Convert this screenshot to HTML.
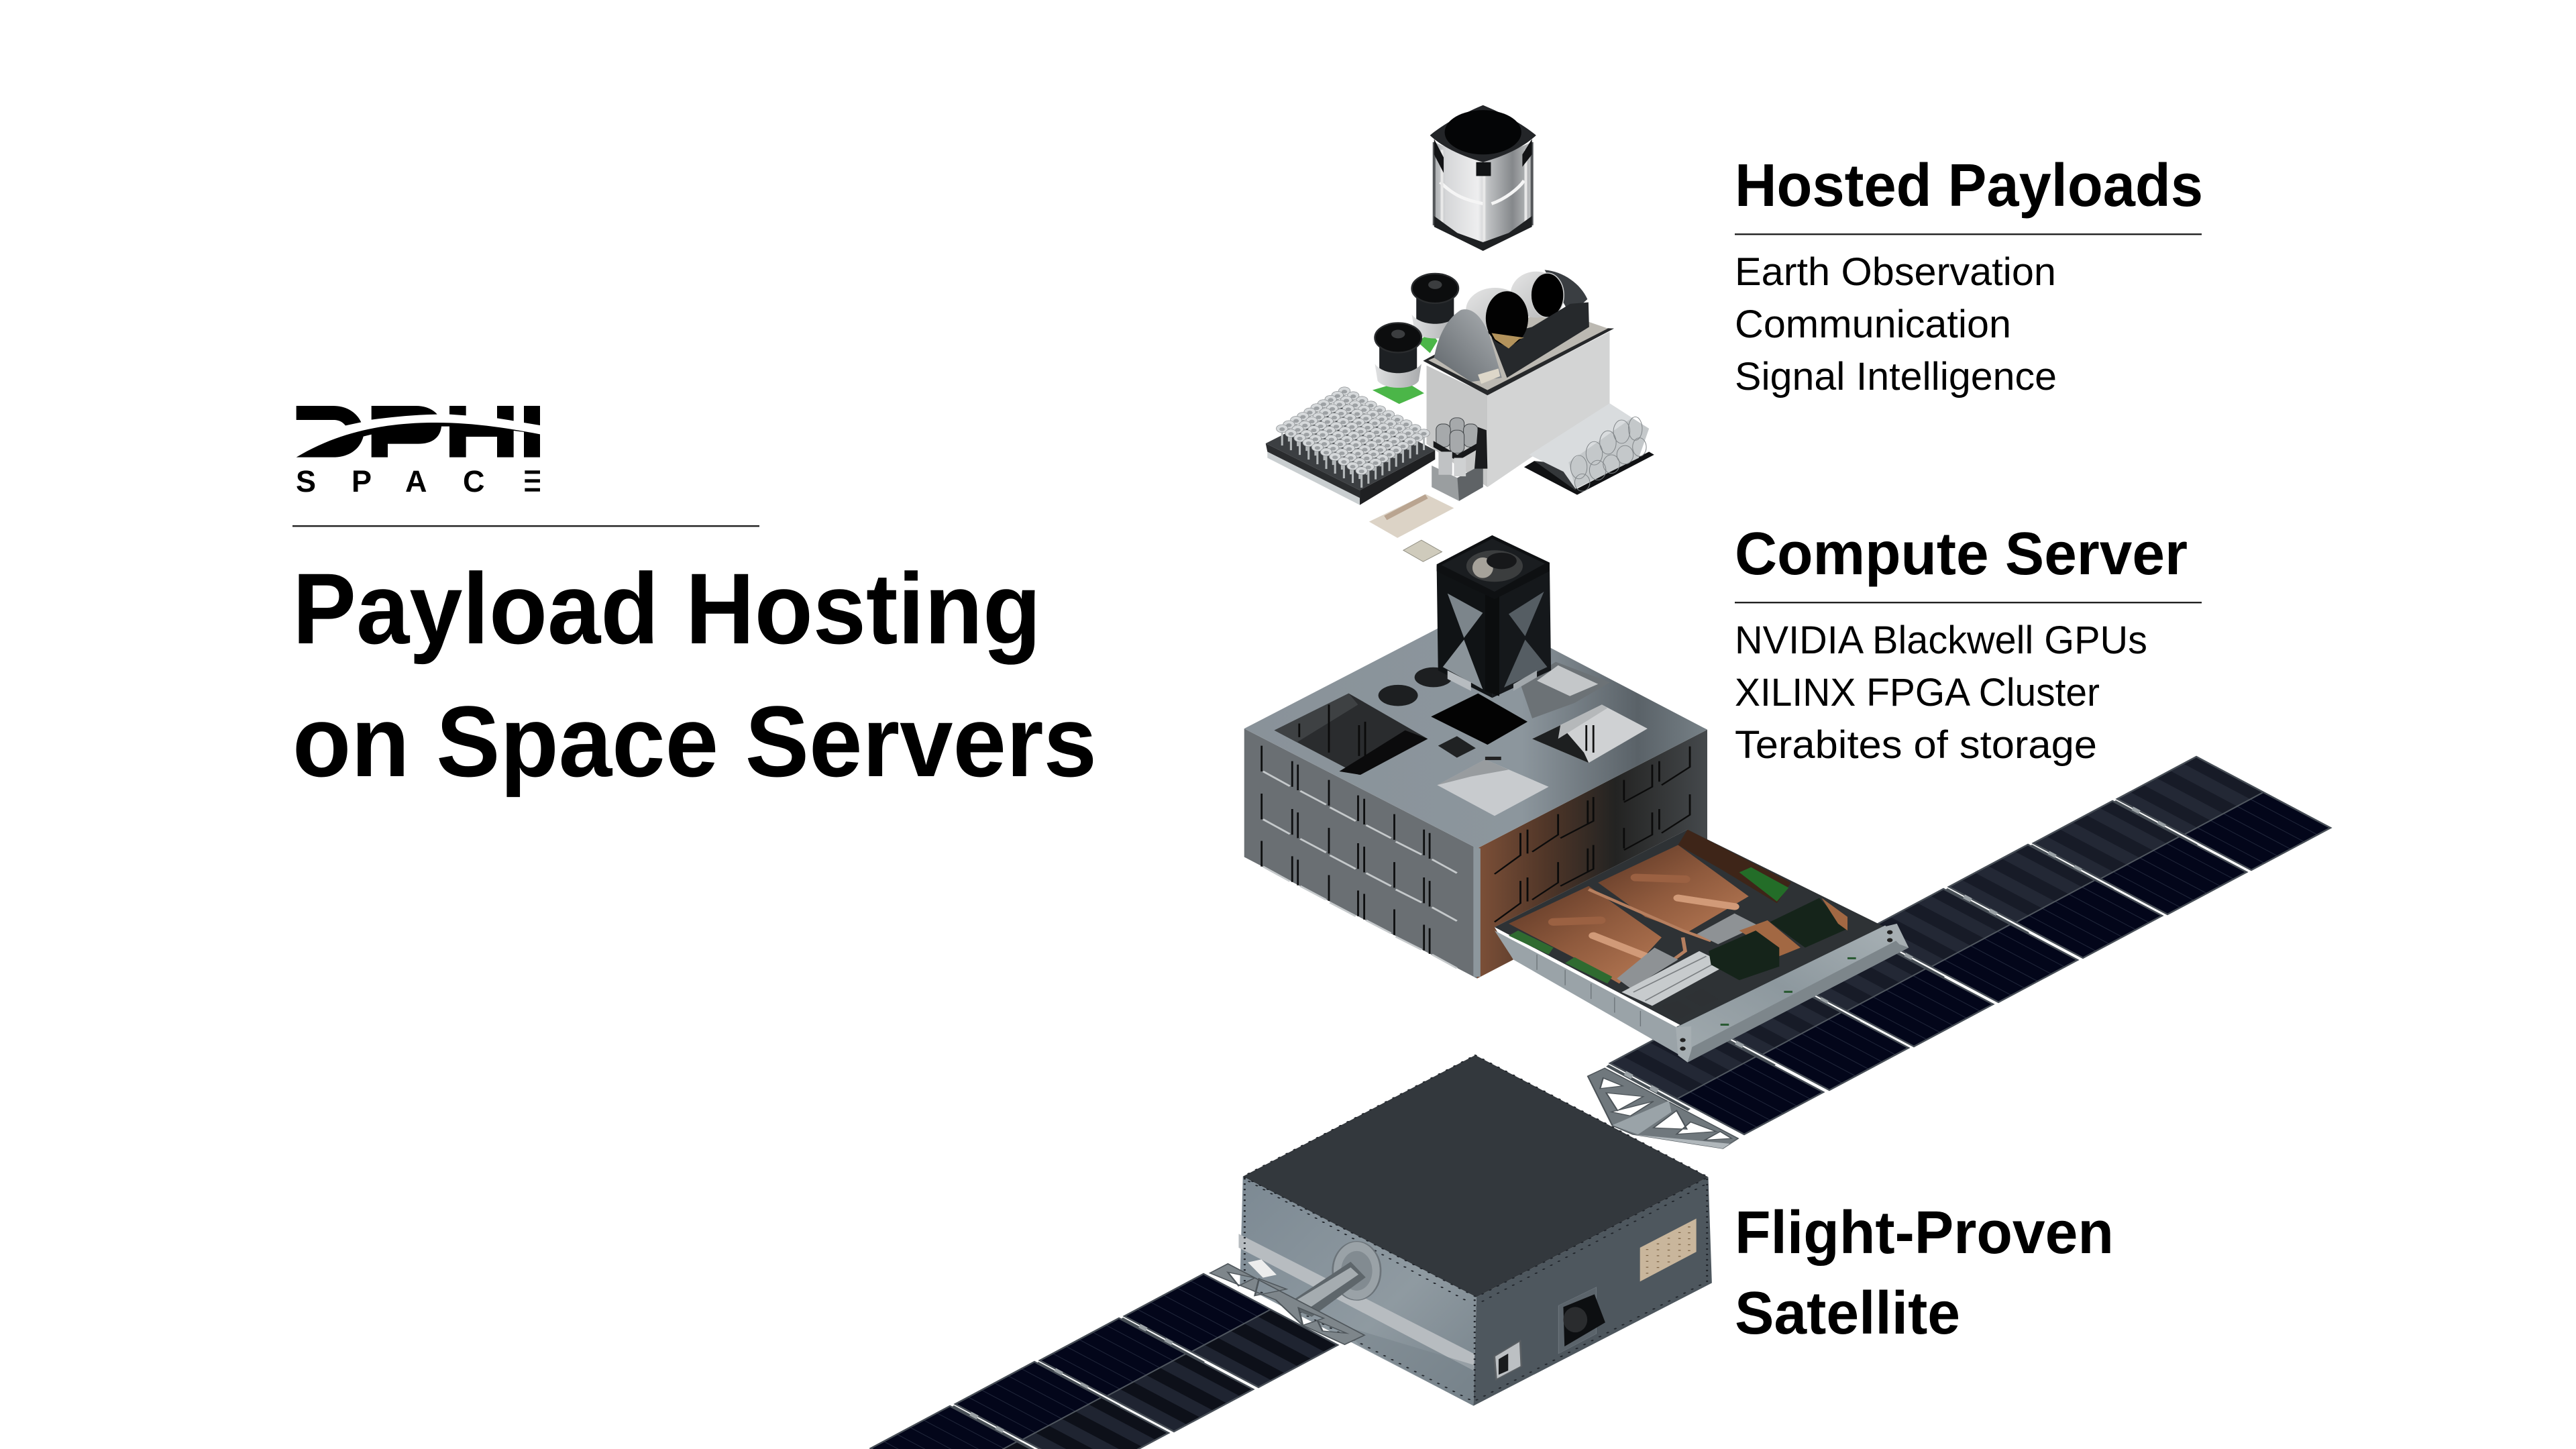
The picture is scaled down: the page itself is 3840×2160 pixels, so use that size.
<!DOCTYPE html>
<html lang="en"><head><meta charset="utf-8"><title>Payload Hosting on Space Servers</title>
<style>html,body{margin:0;padding:0;background:#fff;width:3840px;height:2160px;overflow:hidden}svg{display:block}
.b{font-family:"Liberation Sans",sans-serif;font-weight:700;fill:#000}
.r{font-family:"Liberation Sans",sans-serif;font-weight:400;fill:#000}</style></head><body>
<svg xmlns="http://www.w3.org/2000/svg" width="3840" height="2160" viewBox="0 0 3840 2160">
<defs>
<linearGradient id="silver" x1="0" x2="1" y1="0" y2="0"><stop offset="0" stop-color="#a9acae"/><stop offset=".12" stop-color="#d5d6d8"/><stop offset=".45" stop-color="#eeeeef"/><stop offset=".55" stop-color="#bfc1c3"/><stop offset=".8" stop-color="#85888b"/><stop offset="1" stop-color="#c2c4c5"/></linearGradient>
<linearGradient id="satL" x1="0" x2="1" y1="0" y2="1"><stop offset="0" stop-color="#7c8993"/><stop offset=".6" stop-color="#8f9aa1"/><stop offset="1" stop-color="#77838b"/></linearGradient>
<linearGradient id="srvR" x1="0" x2="1" y1="0" y2="0"><stop offset="0" stop-color="#7d5038"/><stop offset=".3" stop-color="#503628"/><stop offset=".6" stop-color="#232322"/><stop offset="1" stop-color="#45494c"/></linearGradient>
<linearGradient id="srvT" x1="0" x2="1" y1="0" y2="0"><stop offset="0" stop-color="#899299"/><stop offset=".6" stop-color="#8c969d"/><stop offset=".85" stop-color="#5a6268"/><stop offset="1" stop-color="#778187"/></linearGradient>
<linearGradient id="tray" x1="0" x2="1" y1="1" y2="0"><stop offset="0" stop-color="#a2abaf"/><stop offset=".5" stop-color="#8d989e"/><stop offset="1" stop-color="#a9b2b6"/></linearGradient>
<linearGradient id="housing" x1="0" x2="1" y1="1" y2="0"><stop offset="0" stop-color="#5e6469"/><stop offset="1" stop-color="#aeb2b5"/></linearGradient>
<linearGradient id="dome" x1="0" x2="1" y1="0" y2="1"><stop offset="0" stop-color="#e6e6e6"/><stop offset="1" stop-color="#b3b5b6"/></linearGradient>
<linearGradient id="copper" x1="0" x2="1" y1="0" y2="1"><stop offset="0" stop-color="#5a3524"/><stop offset=".5" stop-color="#8f5a3d"/><stop offset="1" stop-color="#b87a55"/></linearGradient>
<linearGradient id="collar" x1="0" x2="1" y1="0" y2="0"><stop offset="0" stop-color="#dfe0e1"/><stop offset="1" stop-color="#a9abad"/></linearGradient>

<g id="hinge"><polygon points="-2,2 -6,5 116,71 120,68" fill="#4a5258"/><polygon points="-6,5 -10,8 112,74 116,71" fill="#fff"/><rect x="22" y="14" width="12" height="7" fill="#9ba2a6" transform="rotate(28 28 17)"/><rect x="60" y="35" width="12" height="7" fill="#9ba2a6" transform="rotate(28 66 38)"/></g>

<g id="dkhalf"><polygon points="0,0 100,53 -18,116 -118,63" fill="#03061a"/>
<path d="M-20,10 L80,63 M-39,21 L61,74 M-59,32 L41,85 M-79,42 L21,95 M-98,53 L2,106" stroke="#20263a" stroke-width="1"/></g>
<g id="sthalf"><polygon points="0,0 100,53 -18,116 -118,63" fill="#0d1019"/>
<polygon points="-20,10 80,63 61,74 -39,21" fill="#1f2431"/><polygon points="-59,32 41,85 21,95 -79,42" fill="#1f2431"/><polygon points="-98,53 2,106 -18,116 -118,63" fill="#1f2431"/></g>
<g id="sthalfA"><polygon points="0,0 100,53 -18,116 -118,63" fill="#171b27"/>
<polygon points="-20,10 80,63 61,74 -39,21" fill="#232835"/><polygon points="-59,32 41,85 21,95 -79,42" fill="#232835"/><polygon points="-98,53 2,106 -18,116 -118,63" fill="#232835"/></g>

<g id="pA"><use href="#sthalfA"/><use href="#dkhalf" x="100" y="53"/><path d="M100,53 L-18,116" stroke="#50575f" stroke-width="2"/><polygon points="0,0 200,106 82,169 -118,63" fill="none" stroke="#474e56" stroke-width="2.5"/></g>
<g id="pB"><use href="#dkhalf"/><use href="#sthalf" x="100" y="53"/><path d="M100,53 L-18,116" stroke="#50575f" stroke-width="2"/><polygon points="0,0 200,106 82,169 -118,63" fill="none" stroke="#474e56" stroke-width="2.5"/></g>

<g id="horn"><path d="M0,0 V55" stroke="#b4b8ba" stroke-width="6"/><ellipse cx="0" cy="0" rx="17" ry="13" fill="#d6d9db" stroke="#8b8f92" stroke-width="1.5"/><ellipse cx="0" cy="2" rx="8" ry="6" fill="#9da1a4"/></g>
<g id="hrow"><use href="#horn"/><use href="#horn" x="25.8" y="15.2"/><use href="#horn" x="51.6" y="30.4"/><use href="#horn" x="77.4" y="45.6"/><use href="#horn" x="103.2" y="60.8"/><use href="#horn" x="129" y="76"/><use href="#horn" x="154.8" y="91.2"/><use href="#horn" x="180.6" y="106.4"/><use href="#horn" x="206.4" y="121.6"/><use href="#horn" x="232.2" y="136.8"/></g>

<g id="lslots"><path d="M115,650V725M180,695V770M192,705V780M258,750V825M320,795V870M333,805V880M397,850V925M460,895V970M472,905V980" stroke="#0d0e0f" stroke-width="4" fill="none"/>
<path d="M118,725L175,768M197,782L252,822M260,830L315,870M337,882L390,920M400,930L455,968M477,982L530,1022" stroke="#c5c9cb" stroke-width="5" fill="none"/></g>
<g id="rslots"><path d="M1025,652V712L965,765M960,695V755M945,705V770L885,815M885,750V810M820,800V870L750,920M808,810V880M745,850V910L690,960M680,895V965M665,905V970L610,1025" stroke="#0b0b0b" stroke-width="4" fill="none"/></g>

<g id="cyl"><path d="M-55,5 V105 C-40,135 40,135 55,105 V5Z" fill="#1d2023"/><path d="M-68,85 L-60,140 C-40,170 45,170 60,140 L68,85 C40,125 -40,125 -68,85Z" fill="url(#collar)"/><ellipse cx="0" cy="0" rx="68" ry="48" fill="#0c0d0e" stroke="#2a2c2e" stroke-width="5"/><ellipse cx="0" cy="-12" rx="20" ry="14" fill="#3b3d3f"/></g>
</defs>

<rect width="3840" height="2160" fill="#fff"/>

<!-- right wing -->
<use href="#pA" x="3274" y="1128"/><use href="#hinge" x="3156" y="1191"/>
<use href="#pA" x="3149" y="1194"/><use href="#hinge" x="3031" y="1257"/>
<use href="#pA" x="3023" y="1259"/><use href="#hinge" x="2905" y="1322"/>
<use href="#pA" x="2897" y="1325"/><use href="#hinge" x="2779" y="1388"/>
<use href="#pA" x="2771" y="1391"/><use href="#hinge" x="2653" y="1454"/>
<use href="#pA" x="2645" y="1456"/><use href="#hinge" x="2527" y="1519"/>
<use href="#pA" x="2518" y="1522"/><use href="#hinge" x="2400" y="1585"/>

<!-- right truss (Z5 coords) -->
<g transform="translate(2350,1100) scale(.7653,.3954)">
<path fill-rule="evenodd" fill="#70787d" stroke="#4c5358" stroke-width="3" d="M22,1275 L55,1245 L315,1510 L285,1548 L110,1495 L70,1462 Z
M52,1282 L90,1312 L46,1322 Z M58,1338 L130,1352 L80,1405 Z M68,1410 L150,1370 L105,1425 Z M195,1405 L215,1475 L150,1470 Z M222,1448 L272,1484 L195,1494 Z M280,1484 L302,1510 L250,1516 Z"/>
<polygon points="70,1460 180,1368 185,1410 120,1495" fill="#9aa3a8"/>
<polygon points="110,1495 285,1548 315,1510 300,1530" fill="#b0b7bb"/>
</g>

<!-- left wing -->
<use href="#pB" x="1794" y="1899"/>
<use href="#hinge" x="1676" y="1962"/>
<use href="#pB" x="1668" y="1965"/>
<use href="#hinge" x="1550" y="2028"/>
<use href="#pB" x="1542" y="2030"/>
<use href="#hinge" x="1424" y="2093"/>
<use href="#pB" x="1416" y="2096"/>

<!-- satellite (Z3 coords) -->
<g transform="translate(1250,1500) scale(.8929,.4209)">
<polygon points="675,603 1065,1030 1060,1415 670,985" fill="url(#satL)"/>
<polygon points="668,806 1062,1232 1060,1290 668,855" fill="#b7bcc0"/>
<polygon points="840,1130 1060,1270 1060,1415 870,1200" fill="#76828a" opacity=".5"/>
<polygon points="1065,1030 1452,605 1458,980 1060,1415" fill="#4e575e"/>
<polygon points="1063,173 1452,605 1065,1030 675,603" fill="#33383d"/>
<path d="M1063,173 L1452,605 L1065,1030 L675,603 Z M1075,1045 L1448,630 M685,620 L1050,1045 M680,985 L1060,1400 L1450,975 M1062,1040 V1400 M678,610 V980 M1450,612 V975" fill="none" stroke="#20242a" stroke-width="3.5" stroke-dasharray="2 17" stroke-linecap="round"/>
<polygon points="1338,855 1432,752 1432,870 1338,975" fill="#c9b69c"/>
<g stroke="#7d6446" stroke-width="4" stroke-dasharray="3 18" fill="none"><path d="M1350,860V960M1368,840V945M1386,820V925M1404,800V905M1420,780V885"/></g>
<polygon points="1202,1060 1265,995 1265,1160 1202,1230" fill="#5b646b" stroke="#707980"/>
<polygon points="1210,1065 1262,1020 1280,1120 1212,1205" fill="#0d0f11"/>
<ellipse cx="1230" cy="1110" rx="20" ry="45" fill="#2a2c2e"/>
<polygon points="1095,1240 1138,1185 1140,1275 1098,1322" fill="#bcc0c3" stroke="#5a5f63" stroke-width="3"/>
<polygon points="1102,1250 1118,1230 1118,1290 1102,1305" fill="#1a1c1e"/>
<!-- flange -->
<ellipse cx="865" cy="937" rx="40" ry="104" fill="#9aa2a7" stroke="#6c747a" stroke-width="3"/>
<ellipse cx="865" cy="937" rx="26" ry="70" fill="#828b91"/>
<polygon points="745,1060 855,905 880,960 790,1100" fill="#5e666b"/>
<polygon points="765,1040 855,925 868,950 785,1070" fill="#a5acb0"/>
<!-- left truss -->
<path fill-rule="evenodd" fill="#7e868b" stroke="#4f565b" stroke-width="3" d="M620,945 L650,912 L878,1165 L845,1198 L775,1130 L730,1040 Z
M650,942 L695,962 L668,990 Z M702,965 L748,1002 L695,1025 Z M768,1068 L810,1105 L775,1130 Z M800,1115 L848,1158 L808,1150 Z"/>
<rect x="695" y="900" width="25" height="60" fill="#eceded" transform="rotate(-25 705 930)"/>
</g>

<!-- compute (Z2 coords) -->
<g transform="translate(1800,780) scale(.7015,.5102)">
<polygon points="78,600 573,950 573,1330 78,975" fill="#6a6f73"/>
<polygon points="573,950 1062,603 1062,930 1020,895 610,1180 650,1275 573,1330" fill="url(#srvR)"/>
<polygon points="565,945 580,950 580,1325 565,1325" fill="#8d979d"/>
<use href="#lslots"/><use href="#lslots" y="140"/><use href="#lslots" y="278"/>
<use href="#rslots"/><use href="#rslots" y="140"/>
<polygon points="570,250 1062,603 573,950 78,600" fill="url(#srvT)"/>
<!-- windows -->
<polygon points="300,497 468,630 322,735 142,605" fill="#2a2c2e"/>
<polygon points="300,497 142,605 190,640 320,530" fill="#3e4143"/>
<polygon points="280,725 325,735 468,630 420,605" fill="#0b0b0c"/>
<path d="M195,585V625M258,530V670M322,590V680M335,580V680" stroke="#0a0a0a" stroke-width="4"/>
<polygon points="475,565 575,497 680,580 595,647" fill="#030303"/>
<polygon points="665,470 740,405 855,465 780,525 690,570" fill="#6c7276"/>
<polygon points="700,460 745,415 830,470 770,505" fill="#c4c7c9"/>
<polygon points="838,530 935,600 810,700 690,630" fill="#cfd1d3"/>
<polygon points="690,630 750,590 800,670 810,700" fill="#1d1f20"/>
<polygon points="838,530 750,590 745,630 850,540" fill="#b5b8ba"/>
<path d="M805,590V665M820,590V670" stroke="#111" stroke-width="4"/>
<polygon points="590,690 725,770 610,855 488,765" fill="#c8cbce"/>
<polygon points="590,690 488,765 560,740 640,720" fill="#83888b" opacity=".7"/>
<rect x="590" y="682" width="34" height="10" fill="#222"/>
<polygon points="490,650 530,622 570,657 530,685" fill="#202223"/>
<ellipse cx="405" cy="503" rx="42" ry="31" fill="#1d1f21"/><ellipse cx="480" cy="450" rx="40" ry="29" fill="#1d1f21"/>
<!-- tray -->
<polygon points="610,1180 1020,895 1440,1180 1010,1470" fill="#2e3235"/>
<polygon points="640,1170 810,1060 965,1210 875,1345 780,1270" fill="url(#copper)"/>
<polygon points="830,1050 1000,940 1150,1090 1020,1195 930,1150" fill="url(#copper)"/>
<polygon points="1000,940 1020,895 1240,1050 1210,1110 1090,1010" fill="#3e2518"/>
<path d="M735,1165 L835,1160 M910,1035 L1015,1040" stroke="#9b6142" stroke-width="22" stroke-linecap="round"/>
<path d="M820,1205 L940,1270 M1000,1095 L1120,1120" stroke="#d19a78" stroke-width="20" stroke-linecap="round"/>
<path d="M810,1070 L1010,1190 L1070,1220 M1010,1210 L1015,1250 L975,1290" fill="none" stroke="#b67f5f" stroke-width="8"/>
<polygon points="870,1330 950,1240 1000,1275 900,1360" fill="#8e9295"/>
<polygon points="1040,1200 1120,1140 1170,1175 1085,1230" fill="#8e9295"/>
<polygon points="640,1205 660,1190 735,1240 725,1260" fill="#2f6b30"/>
<polygon points="760,1285 780,1268 860,1325 850,1345" fill="#2f6b30"/>
<polygon points="1130,1020 1155,1005 1235,1065 1210,1105" fill="#236d28"/>
<polygon points="880,1370 1045,1250 1105,1290 945,1410" fill="#c7cbcd"/>
<path d="M905,1370 L1060,1265 M930,1395 L1085,1280" stroke="#7b7f82" stroke-width="3"/>
<polygon points="965,1410 1000,1395 1035,1425 1000,1450" fill="#2e3134"/>
<polygon points="1015,1385 1050,1360 1085,1390 1050,1412" fill="#2e3134"/>
<polygon points="1130,1190 1190,1160 1260,1240 1215,1265" fill="#a26843"/>
<polygon points="1065,1250 1165,1190 1215,1240 1215,1295 1130,1335 1070,1290" fill="#15241a"/>
<polygon points="1195,1165 1300,1095 1360,1185 1270,1240" fill="#15241a"/>
<polygon points="1305,1095 1360,1150 1360,1190 1340,1170" fill="#a26843"/>
<polygon points="610,1190 1000,1475 1005,1555 650,1275" fill="#9aa3a8"/>
<path d="M700,1260V1305M760,1305V1350M815,1345V1390M865,1385V1430M920,1425V1470" stroke="#6e767b" stroke-width="2"/>
<polygon points="1000,1470 1440,1175 1490,1240 1020,1575" fill="url(#tray)"/>
<polygon points="1030,1530 1470,1215 1490,1240 1020,1575" fill="#7d868b"/>
<polygon points="995,1472 1028,1470 1028,1540 1020,1575 1000,1555" fill="#a6aeb2"/>
<polygon points="1435,1180 1465,1170 1490,1240 1470,1230" fill="#a6aeb2"/>
<circle cx="1010" cy="1510" r="6" fill="#222"/><circle cx="1010" cy="1535" r="6" fill="#222"/><circle cx="1450" cy="1195" r="6" fill="#222"/><circle cx="1450" cy="1218" r="6" fill="#222"/>
<rect x="1090" y="1462" width="18" height="6" fill="#2a5a33"/><rect x="1225" y="1366" width="18" height="6" fill="#2a5a33"/><rect x="1360" y="1268" width="18" height="6" fill="#2a5a33"/>
<!-- tower -->
<polygon points="487,125 605,205 605,510 490,430" fill="#101315"/>
<polygon points="605,205 727,125 730,430 605,510" fill="#15181b"/>
<polygon points="510,205 585,262 545,335" fill="#7c858b"/>
<polygon points="545,340 585,485 500,420" fill="#8b949a"/>
<polygon points="640,265 715,200 675,330" fill="#555d63"/>
<polygon points="675,340 722,420 630,480" fill="#555d63"/>
<polygon points="590,205 620,205 620,505 590,490" fill="#0b0d0e"/>
<polygon points="605,35 727,115 727,140 610,222 487,140 487,120" fill="#0e1012"/>
<polygon points="605,45 717,118 610,200 497,122" fill="#1a1d20"/>
<ellipse cx="610" cy="125" rx="60" ry="46" fill="#3b3d3e"/>
<ellipse cx="585" cy="130" rx="22" ry="30" fill="#a6a29a"/>
<ellipse cx="625" cy="110" rx="32" ry="24" fill="#17181a"/>
<polygon points="510,430 560,465 560,490 510,455" fill="#b7bcc0"/><polygon points="650,470 700,430 700,450 650,490" fill="#a2a8ac"/>
</g>

<!-- payloads (Z1 coords) -->
<g transform="translate(1800,120) scale(.5102,.4592)">
<!-- top cylinder -->
<polygon points="662,200 805,265 948,200 948,470 805,553 662,470" fill="url(#silver)"/>
<path d="M680,330 C730,385 770,390 805,400 M830,400 C870,385 910,350 925,325" stroke="#f5f5f5" stroke-width="10" fill="none"/>
<path d="M662,200 V470 M948,200 V470" stroke="#55585b" stroke-width="8"/>
<path d="M808,270 V520 M685,225 V470 M930,225 V470" stroke="#e8e8e8" stroke-width="8"/>
<polygon points="662,440 730,495 805,525 880,495 948,440 948,475 805,553 662,475" fill="#1e2022"/>
<polygon points="662,190 690,250 690,300 662,240" fill="#121315"/><polygon points="948,190 920,240 920,280 948,240" fill="#121315"/>
<polygon points="785,265 828,265 828,310 785,310" fill="#111315"/>
<path d="M805,80 C870,110 925,145 960,178 C925,215 870,245 805,265 C740,245 685,215 650,178 C685,145 740,110 805,80Z" fill="#232528"/>
<ellipse cx="805" cy="168" rx="112" ry="72" fill="#040506"/>
<!-- cameras -->
<polygon points="615,850 650,815 672,845 650,885" fill="#4bb648"/>
<use href="#cyl" x="665" y="675"/>
<!-- white box -->
<polygon points="640,925 818,1020 818,1320 640,1180" fill="#c6c7c7"/>
<polygon points="818,1020 1175,815 1175,1050 818,1320" fill="#d3d4d4"/>
<polygon points="630,910 830,790 1188,805 818,1022" fill="#26282a"/>
<polygon points="645,908 818,1005 1170,805 1000,740" fill="#bcb9b2"/>
<!-- domes -->
<ellipse cx="960" cy="695" rx="75" ry="75" fill="url(#dome)"/>
<path d="M985,615 C1040,620 1090,660 1110,710 L1060,760 Z" fill="#3a3e42"/>
<ellipse cx="993" cy="697" rx="48" ry="72" fill="#000" stroke="#cfd0d1" stroke-width="3"/>
<ellipse cx="840" cy="745" rx="85" ry="72" fill="url(#dome)"/>
<polygon points="830,835 948,800 1060,725 1113,720 1115,800 875,965" fill="#26292c"/>
<path d="M662,900 C670,850 690,780 740,745 C770,735 800,760 825,830 L860,965 L770,978 Z" fill="url(#housing)"/>
<ellipse cx="875" cy="772" rx="62" ry="88" fill="#020202"/>
<polygon points="830,820 925,835 910,840 880,870 840,840" fill="#b3935c"/>
<polygon points="790,955 850,935 855,960 800,985" fill="#ddd7c9"/>
<!-- cam 2 -->
<polygon points="482,1005 575,975 633,1015 560,1050" fill="#4bb648"/>
<use href="#cyl" x="557" y="835"/>
<!-- roof panel -->
<polygon points="925,1255 1080,1345 1305,1215 1290,1205 1080,1325 955,1235" fill="#101113"/>
<polygon points="955,1235 1075,1330 1085,1290 1000,1240" fill="#34373a"/>
<polygon points="940,1215 1175,1048 1290,1130 1260,1225 1075,1325 1040,1270" fill="#d9dcde"/>
<polygon points="1055,1240 1240,1095 1290,1130 1260,1225 1075,1325" fill="#c4c8ca"/>
<g fill="none" stroke="#808588" stroke-width="2"><ellipse cx="1085" cy="1255" rx="24" ry="38"/><ellipse cx="1130" cy="1210" rx="24" ry="38"/><ellipse cx="1170" cy="1175" rx="24" ry="38"/><ellipse cx="1210" cy="1140" rx="24" ry="38"/><ellipse cx="1250" cy="1130" rx="20" ry="38"/><ellipse cx="1095" cy="1305" rx="22" ry="28"/><ellipse cx="1140" cy="1265" rx="24" ry="32"/><ellipse cx="1180" cy="1245" rx="24" ry="30"/><ellipse cx="1220" cy="1215" rx="24" ry="30"/><ellipse cx="1262" cy="1190" rx="20" ry="30"/></g>
<!-- horn array -->
<polygon points="175,1205 445,1355 445,1378 175,1225" fill="#c9ced0"/>
<polygon points="445,1330 665,1200 665,1230 445,1378" fill="#1f2022"/>
<polygon points="170,1178 400,1050 665,1200 445,1330" fill="#3c3f42"/>
<polygon points="170,1178 445,1330 445,1355 175,1205" fill="#2a2c2e"/>
<g><use href="#hrow" x="400" y="1008"/><use href="#hrow" x="380" y="1022"/><use href="#hrow" x="360" y="1035"/><use href="#hrow" x="339" y="1049"/><use href="#hrow" x="319" y="1062"/><use href="#hrow" x="299" y="1076"/><use href="#hrow" x="279" y="1090"/><use href="#hrow" x="259" y="1103"/><use href="#hrow" x="238" y="1117"/><use href="#hrow" x="218" y="1130"/></g>
<!-- stack -->
<polygon points="655,1250 730,1290 805,1245 805,1320 735,1365 655,1320" fill="#9a9ea0"/>
<polygon points="730,1290 805,1245 805,1320 735,1365" fill="#5f6366"/>
<g fill="#a6a9ab" stroke="#3f4346" stroke-width="2">
<rect x="708" y="1095" width="42" height="75" rx="18"/><rect x="748" y="1115" width="42" height="75" rx="18"/><rect x="668" y="1115" width="42" height="75" rx="18"/><rect x="708" y="1135" width="42" height="75" rx="18"/></g>
<polygon points="660,1170 730,1215 800,1170 800,1190 730,1235 660,1190" fill="#17181a"/>
<rect x="675" y="1205" width="40" height="75" fill="#c0c2c4"/><rect x="720" y="1225" width="35" height="60" fill="#cfd1d2"/>
<polygon points="790,1125 815,1135 818,1260 780,1260" fill="#1a1b1d"/>
<!-- boards -->
<polygon points="638,1343 720,1388 555,1485 472,1432" fill="#dcd3c6"/>
<path d="M520,1420 L640,1350" stroke="#98775b" stroke-width="16" opacity=".5"/>
<polygon points="625,1492 685,1530 630,1562 572,1525" fill="#cfcbbc" stroke="#8c8a7e" stroke-width="2"/>
</g>

<!-- logo -->
<g transform="translate(400,570) scale(.33333)" fill="#000">
<title>DPHI SPACE</title>
<path d="M125,105 H290 C350,105 395,135 415,178 L345,193 C330,175 315,168 290,168 H125Z"/>
<path d="M461,105 H660 C700,105 735,118 755,143 C650,145 550,155 461,167Z"/>
<path d="M810,105 H884 V148 L810,143Z M1023,105 H1097 V172 L1023,160Z M1143,105 H1215 V192 L1143,180Z"/>
<path d="M125,335 C300,230 500,180 750,180 C900,180 1050,200 1215,232 V335 H1143 V222 L1097,216 V335 H1023 V243 H884 V335 H810 V197 H774 C770,240 740,275 670,275 H534 V335 H461 V233 L425,242 C410,300 360,335 290,335Z"/>
<rect x="1147" y="394" width="68" height="15"/><rect x="1147" y="433" width="68" height="15"/><rect x="1147" y="473" width="68" height="15"/>
</g>
<text class="b" x="441" y="733" font-size="45">S</text>
<text class="b" x="524" y="733" font-size="45">P</text>
<text class="b" x="604" y="733" font-size="45">A</text>
<text class="b" x="690" y="733" font-size="45">C</text>
<rect x="436" y="783" width="696" height="2.4" fill="#222"/>

<!-- text -->
<text class="b" x="436" y="959" font-size="150" textLength="1116" lengthAdjust="spacingAndGlyphs">Payload Hosting</text>
<text class="b" x="436" y="1157" font-size="150" textLength="1199" lengthAdjust="spacingAndGlyphs">on Space Servers</text>

<text class="b" x="2586" y="307" font-size="90" textLength="698" lengthAdjust="spacingAndGlyphs">Hosted Payloads</text>
<rect x="2586" y="348" width="696" height="2.4" fill="#222"/>
<text class="r" x="2586" y="425" font-size="58" textLength="479" lengthAdjust="spacingAndGlyphs">Earth Observation</text>
<text class="r" x="2586" y="503" font-size="58" textLength="412" lengthAdjust="spacingAndGlyphs">Communication</text>
<text class="r" x="2586" y="581" font-size="58" textLength="480" lengthAdjust="spacingAndGlyphs">Signal Intelligence</text>

<text class="b" x="2586" y="856" font-size="90" textLength="675" lengthAdjust="spacingAndGlyphs">Compute Server</text>
<rect x="2586" y="897" width="696" height="2.4" fill="#222"/>
<text class="r" x="2586" y="974" font-size="58" textLength="615" lengthAdjust="spacingAndGlyphs">NVIDIA Blackwell GPUs</text>
<text class="r" x="2586" y="1052" font-size="58" textLength="544" lengthAdjust="spacingAndGlyphs">XILINX FPGA Cluster</text>
<text class="r" x="2586" y="1130" font-size="58" textLength="540" lengthAdjust="spacingAndGlyphs">Terabites of storage</text>

<text class="b" x="2586" y="1868" font-size="90" textLength="565" lengthAdjust="spacingAndGlyphs">Flight-Proven</text>
<text class="b" x="2586" y="1988" font-size="90" textLength="336" lengthAdjust="spacingAndGlyphs">Satellite</text>
</svg>
</body></html>
